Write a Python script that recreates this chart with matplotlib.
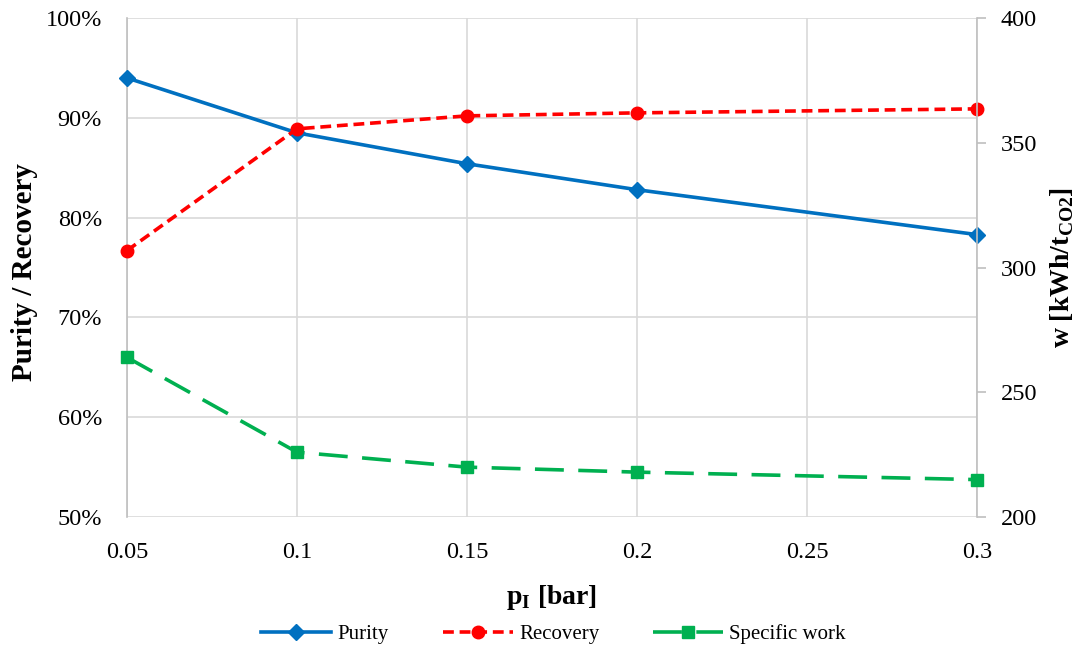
import matplotlib.pyplot as plt
from matplotlib.ticker import FuncFormatter, MultipleLocator
from matplotlib.lines import Line2D

plt.rcParams['font.family'] = ['Liberation Serif', 'DejaVu Serif']

# Data
pressure = [0.05, 0.1, 0.15, 0.2, 0.3]
purity = [94.0, 88.5, 85.4, 82.8, 78.3]
recovery = [76.7, 88.9, 90.2, 90.5, 90.9]
specific_work = [264, 226, 220, 218, 215]

fig = plt.figure(figsize=(10.75, 6.45), dpi=100)
ax = fig.add_axes([0.1181, 0.1984, 0.7907, 0.7736])
ax2 = ax.twinx()

blue = '#0070C0'
red = '#FF0000'
green = '#00B050'
grid_c = '#D9D9D9'

ax.plot(pressure, purity, color=blue, lw=2.6, marker='D', ms=8, label='Purity',
        zorder=3, clip_on=False)
ax.plot(pressure, recovery, color=red, lw=2.6, ls=(0, (3, 1.6)), marker='o', ms=9,
        label='Recovery', zorder=3, clip_on=False)
ax2.plot(pressure, specific_work, color=green, lw=2.6, ls=(0, (8, 4)), marker='s', ms=8,
         label='Specific work', zorder=3, clip_on=False)

ax.set_xlim(0.05, 0.3)
ax.set_ylim(50, 100)
ax2.set_ylim(200, 400)
ax.xaxis.set_major_locator(MultipleLocator(0.05))
ax.yaxis.set_major_locator(MultipleLocator(10))
ax2.yaxis.set_major_locator(MultipleLocator(50))
ax.xaxis.set_major_formatter(FuncFormatter(lambda v, p: f'{v:g}'))
ax.yaxis.set_major_formatter(FuncFormatter(lambda v, p: f'{v:.0f}%'))

ax.grid(True, color=grid_c, lw=1.2)
ax.set_axisbelow(True)
for a in (ax, ax2):
    for s in a.spines.values():
        s.set_visible(False)
ax.spines['left'].set_visible(True)
ax.spines['left'].set_color('#BFBFBF')
ax.spines['left'].set_linewidth(1.2)
ax2.spines['right'].set_visible(True)
ax2.spines['right'].set_color('#BFBFBF')
ax2.spines['right'].set_linewidth(1.2)

ax.tick_params(axis='y', length=0, labelsize=17.5, pad=18)
ax.tick_params(axis='x', length=0, labelsize=17.5, pad=18)
ax2.tick_params(axis='y', length=6.5, color='#BFBFBF', width=1.2, labelsize=17.5, pad=10.5)

ax.set_xlabel(r'p$_\mathregular{I}$ [bar]', fontsize=20, fontweight='bold')
ax.set_ylabel('Purity / Recovery', fontsize=21, fontweight='bold')
ax2.set_ylabel(r'w [kWh/t$_\mathregular{CO2}$]', fontsize=20, fontweight='bold')

ax.xaxis.set_label_coords(0.5, -0.162)
ax.xaxis.label.set_va('center')
ax.yaxis.set_label_coords(-0.121, 0.49)
ax.yaxis.label.set_va('center')
ax2.yaxis.set_label_coords(1.1, 0.5)
ax2.yaxis.label.set_va('center')

handles = [
    Line2D([], [], color=blue, lw=2.6, marker='D', ms=8),
    Line2D([], [], color=red, lw=2.6, ls=(0, (3, 1.6)), marker='o', ms=9),
    Line2D([], [], color=green, lw=2.6, ls=(0, (8, 4)), marker='s', ms=8),
]
fig.legend(handles, ['Purity', 'Recovery', 'Specific work'], loc='center',
           bbox_to_anchor=(0.515, 0.017), ncol=3, frameon=False, fontsize=15,
           handlelength=3.35, handletextpad=0.3, columnspacing=2.6)

fig.savefig('out.png', dpi=100)
